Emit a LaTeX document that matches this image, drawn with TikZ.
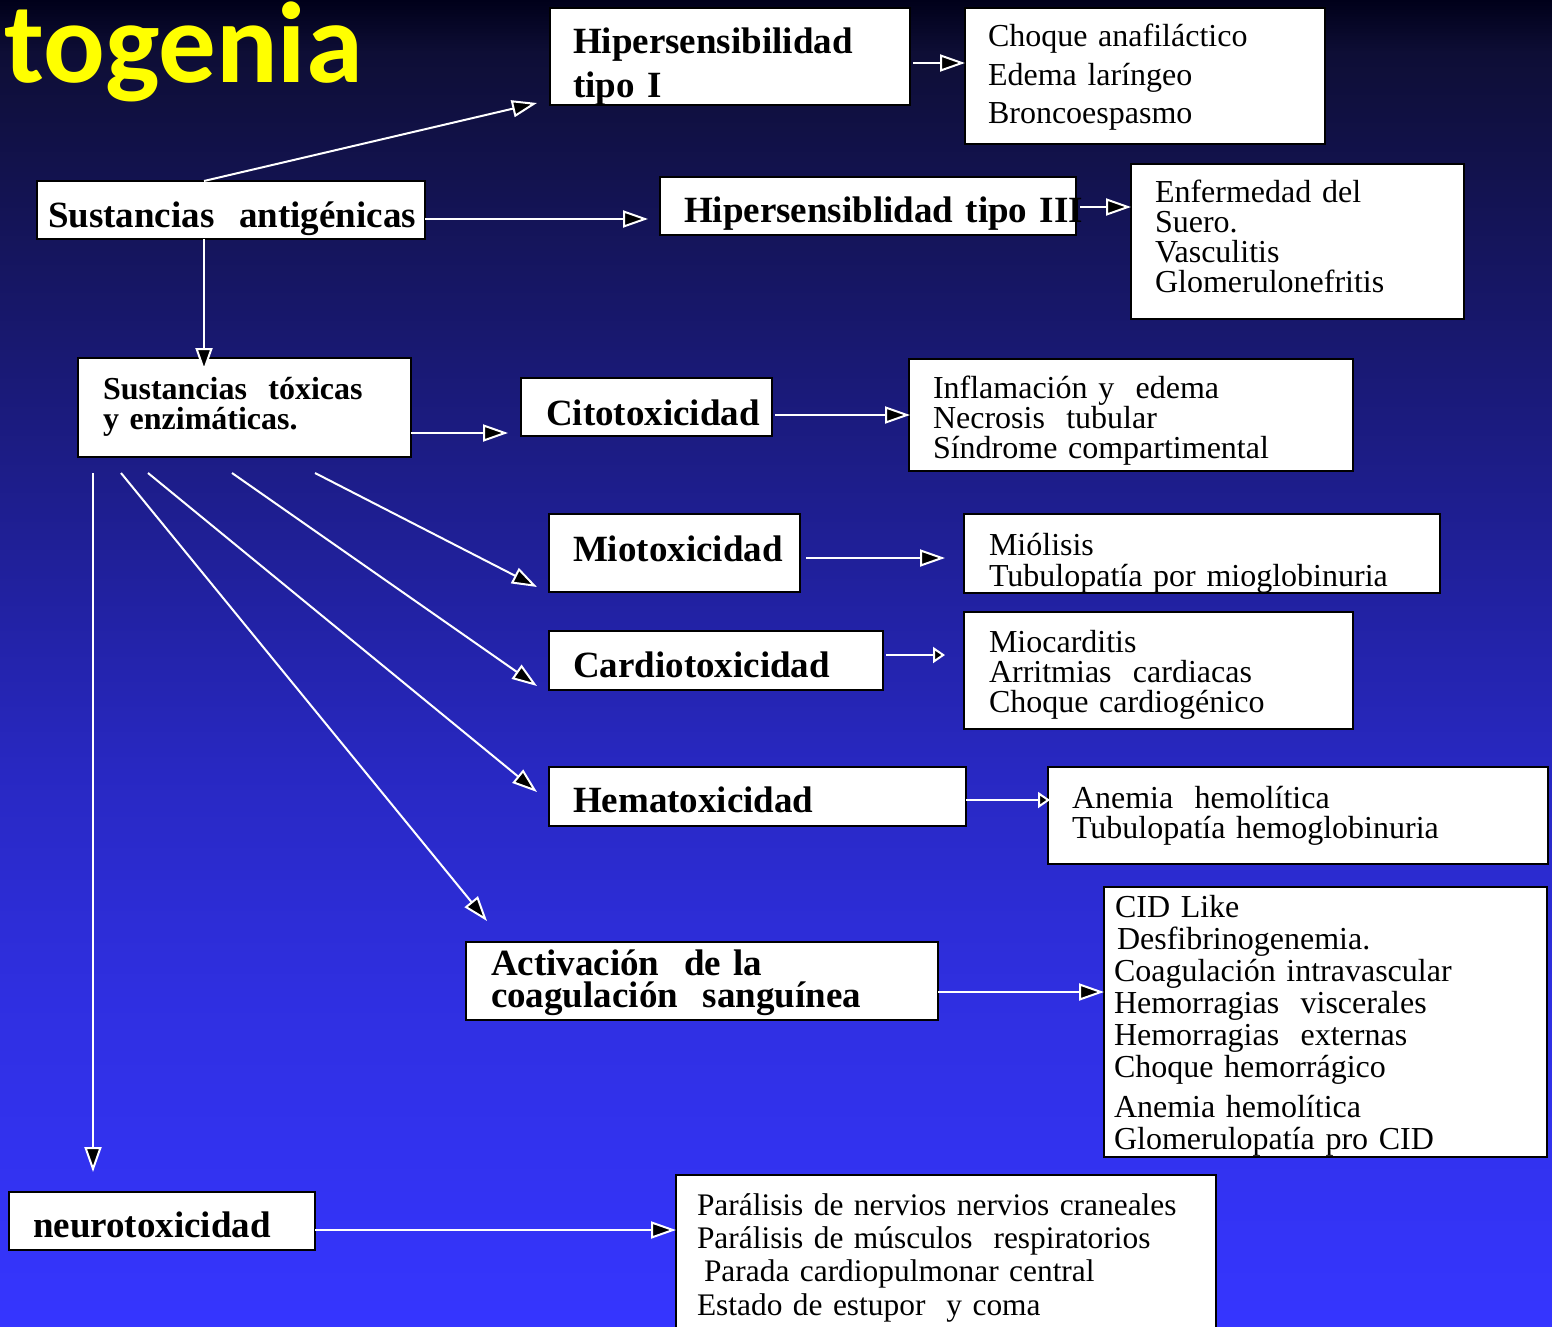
\documentclass[tikz,border=0pt]{standalone}
\usepackage{fontspec}
\setmainfont{Liberation Serif}
\newfontfamily\carlito{Carlito}
\usetikzlibrary{arrows.meta,calc}
\definecolor{amarillo}{RGB}{255,255,0}
\pgfdeclareverticalshading{fondo}{100bp}{rgb(0bp)=(0.21,0.21,1); rgb(25bp)=(0.21,0.21,1); rgb(37.5bp)=(0.185,0.185,0.88); rgb(46bp)=(0.157,0.157,0.76); rgb(52.5bp)=(0.13,0.13,0.63); rgb(63.5bp)=(0.09,0.09,0.41); rgb(73bp)=(0.055,0.055,0.21); rgb(75bp)=(0,0,0.1); rgb(100bp)=(0,0,0.1)}

\begin{document}
\begin{tikzpicture}[x=0.5pt,y=0.5pt,yscale=-1,xscale=1,
    caja/.style={draw=black,line width=1.2pt,fill=white,anchor=north west,inner ysep=0pt,outer sep=0pt,align=left},
    negrita/.style={caja,font=\bfseries\fontsize{18.5}{22}\selectfont,execute at begin node={\hyphenpenalty=10000\relax}},
    lista/.style={caja,font=\fontsize{16}{15}\selectfont},
    flecha/.style={draw=white,line width=1pt,-{Triangle[length=12.5pt,width=8.5pt,fill=black]}},
    flechita/.style={draw=white,line width=1pt,-{Triangle[length=6pt,width=8pt,fill=black]}}]
        % Background
        \useasboundingbox (0,0) rectangle (1552,1327);
        \shade[shading=fondo] (0,0) rectangle (1552,1327);
        % Title
        \node[font=\carlito\bfseries\fontsize{57.5}{57.5}\selectfont,text=amarillo,anchor=base west,inner sep=0pt] (togenia) at (4,83) {togenia};
        % Antigenic side
        \node[negrita,inner xsep=11.5pt,text width=157pt,text height=23pt,text depth=25.5pt] (hs1) at (550,8) {Hipersensibilidad\\tipo I};
        \node[lista,font=\fontsize{16}{19.25}\selectfont,inner xsep=11.5pt,text width=157pt,text height=19.5pt,text depth=48.5pt] (r1) at (965,8) {Choque anafiláctico\\Edema laríngeo\\Broncoespasmo};
        \node[negrita,inner xsep=5.5pt,text width=183pt,text height=23pt,text depth=6pt] (s1) at (37,181) {Sustancias~~antigénicas};
        \node[negrita,inner xsep=12pt,text width=184pt,text height=22.5pt,text depth=6.5pt] (hs3) at (660,177) {Hipersensiblidad~tipo~III};
        \node[lista,inner xsep=12pt,text width=142.5pt,text height=19pt,text depth=58.5pt] (r3) at (1131,164) {Enfermedad del\\Suero.\\Vasculitis\\Glomerulonefritis};
        % Toxic side
        \node[negrita,font=\bfseries\fontsize{16}{15}\selectfont,inner xsep=12.5pt,text width=141.5pt,text height=20.5pt,text depth=29pt] (s2) at (78,358) {Sustancias~~tóxicas\\y enzimáticas.};
        \node[negrita,inner xsep=12.5pt,text width=100.5pt,text height=23.5pt,text depth=5.5pt] (cit) at (521,378) {Citotoxicidad};
        \node[lista,inner xsep=12pt,text width=198pt,text height=19.5pt,text depth=36.5pt] (r4) at (909,359) {Inflamación y~~edema\\Necrosis~~tubular\\Síndrome compartimental};
        \node[negrita,inner xsep=12pt,text width=101.5pt,text height=23.5pt,text depth=15.5pt] (mio) at (549,514) {Miotoxicidad};
        \node[lista,font=\fontsize{16}{15.5}\selectfont,inner xsep=12.5pt,text width=213pt,text height=20.5pt,text depth=19pt] (r5) at (964,514) {Miólisis\\Tubulopatía por mioglobinuria};
        \node[negrita,inner xsep=12pt,text width=143pt,text height=23pt,text depth=6.5pt] (car) at (549,631) {Cardiotoxicidad};
        \node[lista,inner xsep=12.5pt,text width=169.5pt,text height=20pt,text depth=38.5pt] (r6) at (964,612) {Miocarditis\\Arritmias~~cardiacas\\Choque cardiogénico};
        \node[negrita,inner xsep=12pt,text width=184.5pt,text height=22.5pt,text depth=7pt] (hem) at (549,767) {Hematoxicidad};
        \node[lista,inner xsep=12pt,text width=226pt,text height=20.5pt,text depth=28pt] (r7) at (1048,767) {Anemia~~hemolítica\\Tubulopatía hemoglobinuria};
        \node[negrita,font=\bfseries\fontsize{18.5}{16}\selectfont,inner xsep=12.5pt,text width=211pt,text height=16.5pt,text depth=22.5pt] (act) at (466,942) {Activación~~de la\\coagulación~~sanguínea};
        \node[lista,font=\fontsize{16}{16}\selectfont,inner xsep=5pt,text width=211.5pt,text height=15pt,text depth=120pt] (r8) at (1104,887) {\hspace*{0.5pt}CID Like\\\hspace*{1.5pt}Desfibrinogenemia.\\Coagulación intravascular\\Hemorragias~~viscerales\\Hemorragias~~externas\\Choque hemorrágico\\[4pt]Anemia hemolítica\\Glomerulopatía pro CID};
        \node[negrita,inner xsep=12pt,text width=129pt,text height=22.5pt,text depth=6.5pt] (neu) at (9,1192) {neurotoxicidad};
        \node[lista,font=\fontsize{15.7}{16.67}\selectfont,inner xsep=10.5pt,text width=249pt,text height=20pt,text depth=62.5pt] (r9) at (676,1175) {Parálisis de nervios nervios craneales\\Parálisis de músculos~~respiratorios\\\hspace*{3.5pt}Parada cardiopulmonar central\\Estado de~estupor~~y coma};
        % Arrows
        \draw[flecha] ($(s1.north west)+(167,0)$) -- ($(hs1.south west)+(-13,-2)$);
        \draw[flecha] ($(hs1.north east)+(3,55)$) -- ($(r1.north west)+(0,55)$);
        \draw[flecha] ($(s1.north east)+(0,38)$) -- ($(hs3.north west)+(-12,42)$);
        \draw[flecha] ($(hs3.north east)+(4,30)$) -- ($(r3.north west)+(0,43)$);
        \draw[flecha] ($(s1.south west)+(167,0)$) -- ($(s2.north west)+(126,15)$);
        \draw[flecha] ($(s2.north east)+(0,75)$) -- ($(cit.north west)+(-13,55)$);
        \draw[flecha] ($(cit.north east)+(3,37)$) -- ($(r4.north west)+(1,56)$);
        \draw[flecha] ($(s2.south west)+(237,16)$) -- ($(mio.north west)+(-12,73)$);
        \draw[flecha] ($(s2.south west)+(154,16)$) -- ($(car.north west)+(-12,55)$);
        \draw[flecha] ($(s2.south west)+(70,16)$) -- ($(hem.north west)+(-12,25)$);
        \draw[flecha] ($(s2.south west)+(43,16)$) -- ($(act.north west)+(21,-21)$);
        \draw[flecha] ($(s2.south west)+(15,16)$) -- ($(neu.north west)+(84,-20)$);
        \draw[flecha] ($(mio.north east)+(6,44)$) -- ($(r5.north west)+(-19,44)$);
        \draw[flechita] ($(car.north east)+(3,24)$) -- ($(r6.north west)+(-19,43)$);
        \draw[flechita] ($(hem.north east)+(0,33)$) -- ($(r7.north west)+(2,33)$);
        \draw[flecha] ($(act.north east)+(0,50)$) -- ($(r8.north west)+(0,105)$);
        \draw[flecha] ($(neu.north east)+(0,38)$) -- ($(r9.north west)+(0,55)$);
    \end{tikzpicture}
\end{document}
